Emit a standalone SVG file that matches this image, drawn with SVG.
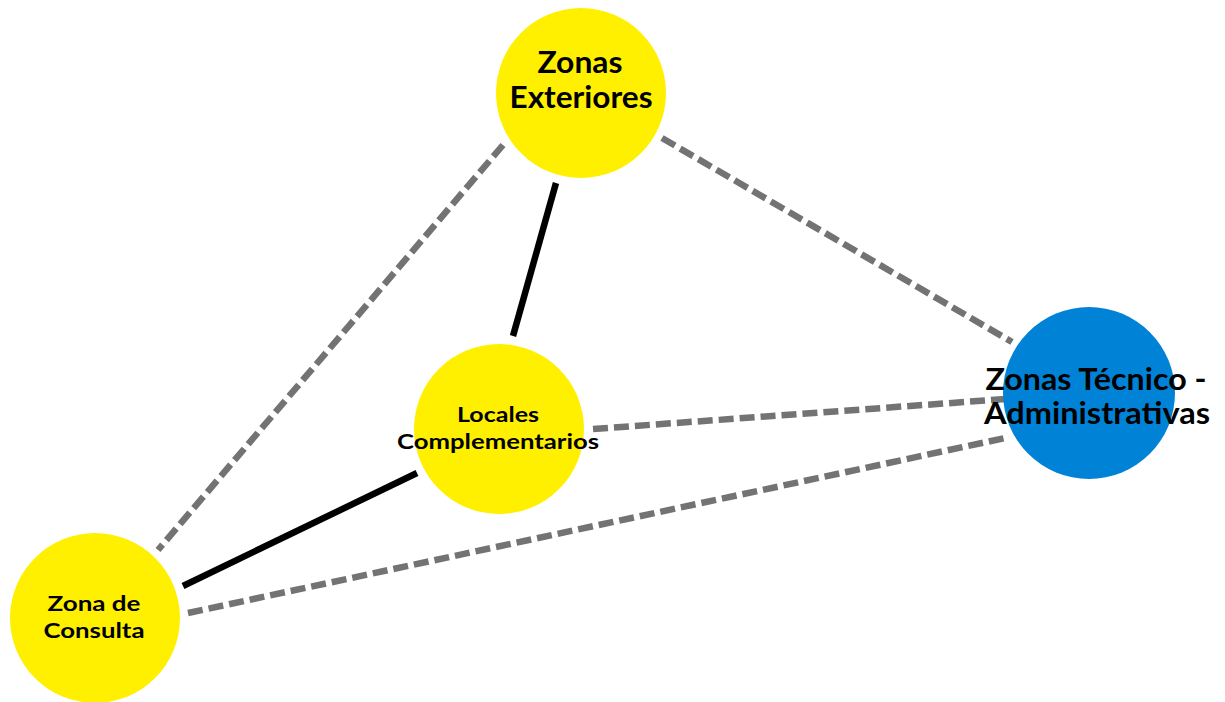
<svg xmlns="http://www.w3.org/2000/svg" width="1225" height="702" viewBox="0 0 1225 702">
  <style>
    .solid { stroke: #000000; stroke-width: 6.5; fill: none; }
    .dash { stroke: #737373; stroke-width: 6.5; stroke-dasharray: 15 6; fill: none; }
    .yellow { fill: #FFF000; }
    .blue { fill: #0083D7; }
    text { font-family: Lato, "Open Sans", "Liberation Sans", sans-serif; font-weight: bold; fill: #000000; text-anchor: middle; }
    .big { font-size: 30px; }
    .small { font-size: 21px; }
  </style>
  <rect width="1225" height="702" fill="#FFFFFF"/>

  <!-- links between zones -->
  <g id="connectors">
    <line class="dash" x1="662" y1="138" x2="1012" y2="342"/>
    <line class="dash" x1="503" y1="145" x2="158" y2="550"/>
    <line class="dash" x1="593" y1="429" x2="1006" y2="399"/>
    <line class="dash" x1="188" y1="613" x2="1005" y2="438"/>
    <line class="solid" x1="556" y1="183" x2="513" y2="336"/>
    <line class="solid" x1="417" y1="473" x2="183" y2="586"/>
  </g>

  <g id="zonas-exteriores">
    <circle class="yellow" cx="581" cy="93" r="85"/>
    <text class="big" x="580" y="73" textLength="85" lengthAdjust="spacingAndGlyphs">Zonas</text>
    <text class="big" x="581" y="108" textLength="143" lengthAdjust="spacingAndGlyphs">Exteriores</text>
  </g>

  <g id="locales-complementarios">
    <circle class="yellow" cx="499" cy="429" r="85"/>
    <text class="small" x="498" y="422" textLength="82" lengthAdjust="spacingAndGlyphs">Locales</text>
    <text class="small" x="498" y="449" textLength="202" lengthAdjust="spacingAndGlyphs">Complementarios</text>
  </g>

  <g id="zona-de-consulta">
    <circle class="yellow" cx="95" cy="618" r="85"/>
    <text class="small" x="94" y="611" textLength="93" lengthAdjust="spacingAndGlyphs">Zona de</text>
    <text class="small" x="94" y="638" textLength="101" lengthAdjust="spacingAndGlyphs">Consulta</text>
  </g>

  <g id="zonas-tecnico-administrativas">
    <circle class="blue" cx="1089" cy="393" r="86"/>
    <text class="big" x="1096" y="390" textLength="221" lengthAdjust="spacingAndGlyphs">Zonas Técnico -</text>
    <text class="big" x="1097" y="424" textLength="226" lengthAdjust="spacingAndGlyphs">Administrativas</text>
  </g>
</svg>
